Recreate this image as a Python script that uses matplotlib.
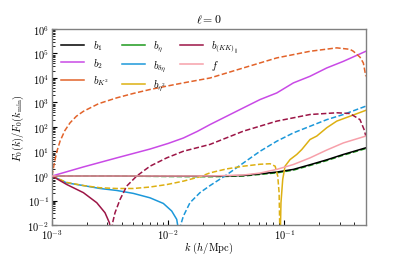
import numpy as np
import matplotlib
matplotlib.use('Agg')
import matplotlib.pyplot as plt

plt.rcParams['font.family'] = 'serif'
plt.rcParams['font.serif'] = ['cmr10', 'DejaVu Serif']
plt.rcParams['mathtext.fontset'] = 'cm'
plt.rcParams['axes.formatter.use_mathtext'] = True
plt.rcParams['font.size'] = 8

# readings from the figure, stored as log10(k) and log10(F0(k)/F0(kmin))
# solid = positive, dashed = negative
b1_lk = [-3, -2.5, -2, -1.64, -1.354, -1.066, -0.923, -0.78, -0.636, -0.493, -0.3]
b1_ly = [0, 0, -0.01, -0.01, 0.02, 0.16, 0.27, 0.46, 0.66, 0.88, 1.15]

beta_lk = [-3, -2.5, -2, -1.64, -1.354, -1.066, -0.923, -0.78, -0.636, -0.493, -0.3]
beta_ly = [0, 0, -0.02, -0.03, 0.0, 0.13, 0.24, 0.43, 0.63, 0.85, 1.12]

b2_lk = [-3, -2.73, -2.443, -2.157, -2.0, -1.87, -1.75, -1.64, -1.497, -1.354, -1.21,
         -1.066, -0.923, -0.78, -0.636, -0.493, -0.3]
b2_ly = [0, 0.37, 0.74, 1.10, 1.33, 1.55, 1.82, 2.10, 2.44, 2.78, 3.12, 3.39, 3.80,
         4.07, 4.41, 4.68, 5.09]

bK2_lk = [-3, -2.985, -2.974, -2.955, -2.931, -2.89, -2.845, -2.79, -2.73, -2.6,
          -2.443, -2.3, -2.157, -2.0, -1.87, -1.64, -1.354, -1.066, -0.78, -0.55,
          -0.436, -0.407, -0.35, -0.321, -0.3]
bK2_ly = [0, 0.4, 0.67, 1.05, 1.42, 1.85, 2.17, 2.44, 2.64, 2.95, 3.19, 3.37, 3.53,
          3.68, 3.8, 4.0, 4.41, 4.82, 5.09, 5.23, 5.17, 5.09, 4.85, 4.61, 4.07]

bKK_pos_lk = [-3, -2.874, -2.73, -2.615, -2.544, -2.507, -2.495]
bKK_pos_ly = [0, -0.345, -0.68, -1.09, -1.5, -1.9, -2.2]
bKK_neg_lk = [-2.485, -2.478, -2.458, -2.415, -2.357, -2.271, -2.157, -2.013, -1.87,
              -1.64, -1.354, -1.066, -0.78, -0.55, -0.436, -0.35, -0.315, -0.3]
bKK_neg_ly = [-2.2, -1.9, -1.5, -0.96, -0.41, 0, 0.40, 0.74, 1.01, 1.29, 1.83, 2.24,
              2.51, 2.58, 2.55, 2.30, 1.90, 1.63]

bde_pos_lk = [-3, -2.874, -2.73, -2.587, -2.443, -2.3, -2.157, -2.042, -1.97, -1.927, -1.912]
bde_pos_ly = [0, -0.28, -0.39, -0.51, -0.59, -0.71, -0.89, -1.12, -1.43, -1.77, -2.2]
bde_neg_lk = [-1.9, -1.89, -1.87, -1.813, -1.727, -1.64, -1.497, -1.354, -1.21, -1.066,
              -0.923, -0.78, -0.636, -0.493, -0.3]
bde_neg_ly = [-2.2, -1.95, -1.64, -1.09, -0.68, -0.39, 0.05, 0.53, 1.01, 1.42, 1.76,
              2.03, 2.30, 2.51, 2.85]

be2_neg_lk = [-3, -2.874, -2.73, -2.587, -2.443, -2.3, -2.157, -2.013, -1.87, -1.727,
              -1.64, -1.497, -1.354, -1.21, -1.124, -1.08, -1.058, -1.046, -1.04]
be2_neg_ly = [0, -0.26, -0.39, -0.48, -0.51, -0.51, -0.45, -0.35, -0.21, -0.03, 0.13,
              0.29, 0.40, 0.48, 0.50, 0.40, 0, -0.68, -2.2]
be2_pos_lk = [-1.035, -1.03, -1.015, -0.995, -0.952, -0.894, -0.851, -0.78, -0.722,
              -0.636, -0.55, -0.436, -0.3]
be2_pos_ly = [-2.2, -1.09, -0.14, 0.40, 0.67, 0.88, 1.08, 1.49, 1.63, 1.97, 2.24, 2.44, 2.68]

f_lk = [-3, -1.64, -1.354, -1.21, -1.066, -0.923, -0.78, -0.636, -0.493, -0.3]
f_ly = [0, 0, 0.04, 0.12, 0.27, 0.47, 0.74, 1.06, 1.35, 1.63]

c_b1 = 'black'
c_b2 = '#c94ae6'
c_bK2 = '#e2632a'
c_beta = '#1e9a1e'
c_bde = '#1c98da'
c_be2 = '#ddb012'
c_bKK = '#9c1546'
c_f = '#f7a0aa'


def p(lk, ly):
    return 10 ** np.array(lk), 10 ** np.array(ly)


fig = plt.figure(figsize=(4.07, 2.55), dpi=100)
ax = fig.add_axes([0.1278, 0.1137, 0.7707, 0.7687])
lw = 1.1
ds = (0, (3.5, 1.6))

ax.plot(*p(beta_lk, beta_ly), color=c_beta, lw=lw, ls=ds, zorder=1)
ax.plot(*p(b1_lk, b1_ly), color=c_b1, lw=lw, zorder=2)
ax.plot(*p(b2_lk, b2_ly), color=c_b2, lw=lw, zorder=2)
ax.plot(*p(bK2_lk, bK2_ly), color=c_bK2, lw=lw, ls=ds, zorder=2)
ax.plot(*p(bde_pos_lk, bde_pos_ly), color=c_bde, lw=lw, zorder=2)
ax.plot(*p(bde_neg_lk, bde_neg_ly), color=c_bde, lw=lw, ls=ds, zorder=2)
ax.plot(*p(be2_neg_lk, be2_neg_ly), color=c_be2, lw=lw, ls=ds, zorder=2)
ax.plot(*p(be2_pos_lk, be2_pos_ly), color=c_be2, lw=lw, zorder=2)
ax.plot(*p(bKK_pos_lk, bKK_pos_ly), color=c_bKK, lw=lw, zorder=2)
ax.plot(*p(bKK_neg_lk, bKK_neg_ly), color=c_bKK, lw=lw, ls=ds, zorder=2)
ax.plot(*p(f_lk, f_ly), color=c_f, lw=lw, zorder=3)

# legend uses solid handles
labels = [r'$b_1$', r'$b_2$', r'$b_{K^2}$', r'$b_\eta$', r'$b_{\delta\eta}$',
          r'$b_{\eta^2}$', r'$b_{(KK)_\parallel}$', r'$f$']
colors = [c_b1, c_b2, c_bK2, c_beta, c_bde, c_be2, c_bKK, c_f]
handles = [plt.Line2D([], [], color=c, lw=lw) for c in colors]
ax.legend(handles, labels, ncol=3, frameon=False, loc='upper left',
          fontsize=7.5, handlelength=2.2, columnspacing=1.3, labelspacing=0.35,
          borderaxespad=0.5)

ax.set_xscale('log')
ax.set_yscale('log')
ax.set_xlim(1e-3, 0.5)
ax.set_ylim(1e-2, 1e6)
ax.set_yticks([10.0 ** e for e in range(-2, 7)])
ax.tick_params(which='both', direction='in', top=False, right=False, pad=2,
               labelsize=7.5)
ax.tick_params(which='major', length=3.5, width=0.8)
ax.tick_params(which='minor', length=2, width=0.6)
for s in ax.spines.values():
    s.set_color('#808080')
    s.set_linewidth(1.0)

ax.set_xlabel(r'$k$ ($h$/Mpc)', fontsize=7.5)
ax.xaxis.set_label_coords(0.5, -0.075)
ax.set_ylabel(r'$F_0(k)/F_0(k_{\rm min})$', fontsize=7.5, labelpad=1)
ax.set_title(r'$\ell=0$', fontsize=8.5, pad=5)

fig.savefig('out.png', dpi=100)
